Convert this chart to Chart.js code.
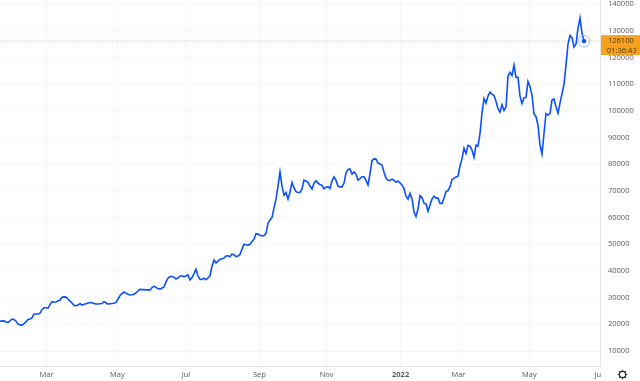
<!DOCTYPE html>
<html>
<head>
<meta charset="utf-8">
<style>
    html, body { margin: 0; padding: 0; background: #fff; }
    #chart { display: block; }
</style>
<script src="https://cdn.jsdelivr.net/npm/chart.js@4"></script>
</head>
<body>
<canvas id="chart" width="640" height="381"></canvas>
<script>
const prices = [
    21200, 21200, 21300, 20900, 20700, 21300, 22000, 21800, 21200, 20100,
    19800, 19700, 20300, 20900, 21800, 22000, 22400, 23900, 23900, 23900,
    24200, 25500, 26200, 26200, 26100, 27400, 28500, 28300, 28400, 28800,
    29100, 30200, 30300, 30200, 29500, 28700, 28000, 27100, 27000, 27200,
    27800, 27200, 27500, 27700, 28000, 28200, 28100, 27800, 27600, 27600,
    27700, 27800, 28500, 28100, 27600, 27700, 27800, 27900, 28200, 29500,
    30800, 31500, 32100, 31700, 31300, 31000, 31100, 31300, 31800, 32500,
    33100, 33000, 33000, 32900, 32900, 32800, 33800, 34300, 33800, 33400,
    33200, 33600, 34000, 35900, 37300, 37900, 37900, 37700, 37000, 37400,
    38100, 38100, 37900, 38100, 38500, 36600, 37500, 39000, 40600, 38100,
    36800, 36800, 37300, 36700, 37400, 38200, 41800, 44100, 43000, 43700,
    44300, 44600, 44800, 45600, 45700, 45300, 46300, 46100, 45400, 45600,
    46200, 48200, 50000, 49800, 49700, 50000, 51000, 51900, 54000, 53800,
    53400, 53100, 53300, 54000, 57900, 59100, 60000, 63600, 66900, 71800,
    77100, 71800, 68400, 69400, 66900, 69500, 73200, 71200, 69700, 69400,
    69400, 70700, 74000, 73700, 73200, 71800, 70700, 72900, 73800, 72900,
    72400, 72100, 70800, 71400, 71600, 70900, 73700, 75200, 74000, 71800,
    71500, 71500, 72900, 76700, 78000, 78200, 76300, 77100, 76300, 74000,
    74600, 75300, 75300, 73900, 72200, 76500, 81300, 82000, 81900, 80400,
    80100, 79700, 77000, 74800, 74000, 73900, 74400, 74000, 73200, 73700,
    73000, 72200, 70900, 68000, 66900, 69100, 67000, 62200, 60400, 63200,
    68200, 67500, 65400, 65100, 62400, 64700, 66900, 68000, 67300, 67300,
    65300, 65300, 67300, 69700, 70100, 71600, 74200, 74800, 75200, 75500,
    79300, 82000, 86000, 84000, 87100, 86800, 85300, 82500, 87100, 86800,
    91500, 99100, 104600, 102900, 105500, 107000, 106200, 105700, 103600, 100800,
    99500, 102300, 100100, 101400, 113000, 114400, 113200, 117100, 112500, 112500,
    105500, 102700, 104800, 105000, 110900, 109100, 105900, 98800, 97800, 94600,
    87100, 83800, 91500, 99000, 98400, 99000, 104000, 104400, 101500, 99100,
    102900, 106400, 110000, 117100, 125000, 128200, 127400, 123900, 125000, 131000,
    134700, 129100, 126100
];

const monthLabels = ['Mar', 'May', 'Jul', 'Sep', 'Nov', '2022', 'Mar', 'May', 'Jun'];
const monthSessions = [23.3, 58.7, 93, 129.7, 163.3, 200.3, 229.2, 264.7, 300];
const yTicks = [10000, 20000, 30000, 40000, 50000, 60000, 70000, 80000, 90000, 100000, 110000, 120000, 130000, 140000];
const lastPrice = 126100;
const lastTime = '01:36:43';

const FONT = '"Open Sans", sans-serif';
const TICK_COLOR = '#5a5a5a';

// y axis column, price tag and gear icon are not something Chart.js has, so they go here
const overlay = {
    id: 'overlay',
    afterDraw(chart) {
        const ctx = chart.ctx;
        const area = chart.chartArea;
        const y = chart.scales.y.getPixelForValue(lastPrice);

        ctx.save();
        // cuts the Jun label off at the axis, like the original
        ctx.fillStyle = '#fff';
        ctx.fillRect(area.right + 1, area.bottom + 1, 40, 15);

        ctx.fillStyle = '#f7a11f';
        ctx.fillRect(area.right + 1, y - 6, 39, 20);
        ctx.fillStyle = '#4a3a20';
        ctx.font = '7.5px ' + FONT;
        ctx.textAlign = 'left';
        ctx.textBaseline = 'middle';
        ctx.fillText(String(lastPrice), area.right + 8, y);
        ctx.fillText(lastTime, area.right + 7, y + 9.5);

        // gear
        ctx.translate(622.5, 374.5);
        ctx.strokeStyle = '#333';
        ctx.lineWidth = 1.2;
        ctx.beginPath();
        ctx.arc(0, 0, 3.2, 0, Math.PI * 2);
        ctx.stroke();
        for (let i = 0; i < 8; i++) {
            ctx.rotate(Math.PI / 4);
            ctx.beginPath();
            ctx.moveTo(3.2, 0);
            ctx.lineTo(4.8, 0);
            ctx.stroke();
        }
        ctx.restore();
    }
};

new Chart(document.getElementById('chart'), {
    type: 'line',
    data: {
        datasets: [
            {
                data: [{ x: prices.length - 1, y: lastPrice }],
                showLine: false,
                pointRadius: 2.2,
                pointBackgroundColor: '#0a4ff0',
                pointBorderWidth: 0
            },
            {
                data: [{ x: prices.length - 1, y: lastPrice }],
                showLine: false,
                pointRadius: 6,
                pointBackgroundColor: 'rgba(10, 80, 255, 0.06)',
                pointBorderColor: '#a9c4f7',
                pointBorderWidth: 1
            },
            {
                data: prices.map((p, i) => ({ x: i, y: p })),
                borderColor: '#0a50ff',
                borderWidth: 1.6,
                pointRadius: 0,
                tension: 0
            },
            {
                data: [{ x: 0, y: lastPrice }, { x: 300, y: lastPrice }],
                borderColor: '#fbd3a0',
                borderWidth: 1,
                borderDash: [2, 1],
                pointRadius: 0
            }
        ]
    },
    options: {
        responsive: false,
        animation: false,
        events: [],
        layout: { padding: 0, autoPadding: false },
        plugins: { legend: { display: false }, tooltip: { enabled: false } },
        scales: {
            x: {
                type: 'linear',
                min: 0,
                max: 300,
                afterBuildTicks: scale => { scale.ticks = monthSessions.map(v => ({ value: v })); },
                afterFit: scale => {
                    scale.height = 15;
                    scale.paddingLeft = 0;
                    scale.paddingRight = 0;
                },
                grid: {
                    color: c => (c.index === monthLabels.length - 1 ? 'transparent' : '#f5f5f5'),
                    drawTicks: false
                },
                border: { color: '#e6e6e6' },
                ticks: {
                    autoSkip: false,
                    maxRotation: 0,
                    padding: 4,
                    color: TICK_COLOR,
                    callback: (v, i) => monthLabels[i],
                    font: c => ({ family: FONT, size: 7.5, weight: c.index === 5 ? 'bold' : 'normal' })
                }
            },
            y: {
                position: 'right',
                min: 4400,
                max: 141500,
                afterBuildTicks: scale => { scale.ticks = yTicks.map(v => ({ value: v })); },
                afterFit: scale => {
                    scale.width = 40;
                    scale.paddingTop = 0;
                    scale.paddingBottom = 0;
                },
                grid: { color: '#f5f5f5', drawTicks: false },
                border: { color: '#e6e6e6' },
                ticks: {
                    autoSkip: false,
                    padding: 8,
                    color: TICK_COLOR,
                    font: { family: FONT, size: 7.5 },
                    callback: v => String(v)
                }
            }
        }
    },
    plugins: [overlay]
});
</script>
</body>
</html>
